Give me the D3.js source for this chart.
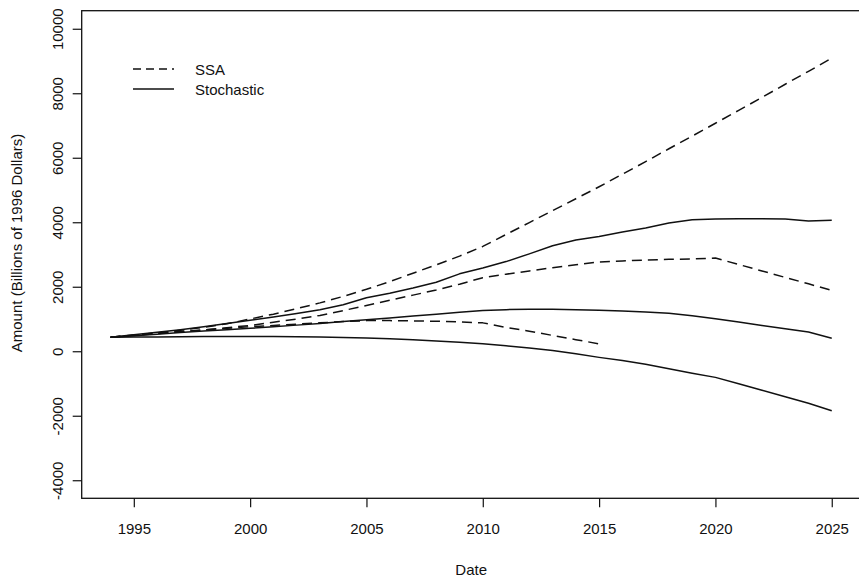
<!DOCTYPE html>
<html>
<head>
<meta charset="utf-8">
<script src="https://cdn.jsdelivr.net/npm/d3@7"></script>
<style>
  html, body { margin: 0; padding: 0; background: #fff; }
  svg { display: block; }
  text { font-family: "Liberation Sans", Arial, Helvetica, sans-serif; fill: #111; }
</style>
</head>
<body>
<svg id="chart" width="859" height="577"></svg>
<script>
// ---- data ----
const years = [1994,1995,1996,1997,1998,1999,2000,2001,2002,2003,2004,2005,2006,2007,2008,2009,
               2010,2011,2012,2013,2014,2015,2016,2017,2018,2019,2020,2021,2022,2023,2024,2025];

const ssaHigh = [435,500,570,650,740,850,1000,1150,1320,1500,1700,1920,2160,2420,2680,2950,
                 3250,3620,3990,4360,4730,5100,5490,5880,6280,6670,7070,7470,7870,8280,8680,9090];
const ssaMid  = [435,490,545,600,660,730,800,900,1000,1110,1260,1420,1580,1740,1900,2080,
                 2280,2390,2490,2590,2680,2770,2800,2830,2850,2860,2890,2690,2490,2290,2090,1890];
const ssaLow  = [435,500,560,610,660,710,760,800,840,880,920,950,950,940,930,910,
                 880,740,620,490,360,230,null,null,null,null,null,null,null,null,null,null];

const stochHigh = [435,510,590,670,760,860,960,1060,1170,1290,1440,1660,1800,1960,2140,2400,
                   2580,2780,3020,3270,3450,3560,3700,3820,3980,4080,4100,4110,4110,4100,4040,4060];
const stochMid  = [435,480,530,580,630,670,710,760,810,860,920,975,1030,1090,1150,1210,
                   1260,1290,1305,1300,1290,1270,1250,1220,1180,1100,1010,905,800,700,597,405];
const stochLow  = [435,440,445,450,455,455,455,455,450,440,425,410,390,360,320,280,
                   230,170,100,20,-80,-190,-290,-400,-540,-680,-810,-1010,-1210,-1410,-1615,-1845];

const xTicks = [1995,2000,2005,2010,2015,2020,2025];
const yTicks = [-4000,-2000,0,2000,4000,6000,8000,10000];
const legendLabels = ["SSA","Stochastic"];
const xTitle = "Date";
const yTitle = "Amount (Billions of 1996 Dollars)";

// ---- layout ----
const svg = d3.select("#chart");
const L = 81.7, R = 860.6, T = 10.7, B = 498.3;
const x = d3.scaleLinear().domain([1992.76, 2026.24]).range([L, R]);
const y = d3.scaleLinear().domain([-4560, 10560]).range([B, T]);

const DASH = "10,6";
const seriesDefs = [
  {vals: ssaHigh, dash: DASH},
  {vals: ssaMid, dash: DASH},
  {vals: ssaLow, dash: DASH},
  {vals: stochHigh, dash: null},
  {vals: stochMid, dash: null},
  {vals: stochLow, dash: null}
];

const line = d3.line()
  .defined(d => d.v !== null)
  .x(d => x(d.t))
  .y(d => y(d.v));

seriesDefs.forEach(s => {
  const pts = years.map((t, i) => ({t, v: s.vals[i]}));
  svg.append("path")
    .attr("d", line(pts))
    .attr("fill", "none")
    .attr("stroke", "#111")
    .attr("stroke-width", 1.5)
    .attr("stroke-dasharray", s.dash)
    .attr("stroke-linejoin", "round");
});

// frame
svg.append("rect")
  .attr("x", L).attr("y", T)
  .attr("width", R - L).attr("height", B - T)
  .attr("fill", "none").attr("stroke", "#111").attr("stroke-width", 1.3);

const fmt = d => String(d);

// x axis
const xAxis = d3.axisBottom(x).tickValues(xTicks).tickFormat(fmt)
  .tickSize(9).tickSizeOuter(0).tickPadding(16);
const gx = svg.append("g").attr("transform", `translate(0,${B})`).call(xAxis);
gx.select(".domain").remove();
gx.selectAll("line").attr("stroke", "#111").attr("stroke-width", 1.2);
gx.selectAll("text").attr("font-size", 15).attr("font-family", "Liberation Sans, Arial, sans-serif").attr("fill", "#111");

// y axis
const yAxis = d3.axisLeft(y).tickValues(yTicks).tickFormat(fmt)
  .tickSize(9).tickSizeOuter(0).tickPadding(0);
const gy = svg.append("g").attr("transform", `translate(${L},0)`).call(yAxis);
gy.select(".domain").remove();
gy.selectAll("line").attr("stroke", "#111").attr("stroke-width", 1.2);
gy.selectAll("text")
  .attr("font-size", 15).attr("font-family", "Liberation Sans, Arial, sans-serif").attr("fill", "#111")
  .attr("x", null).attr("dy", null)
  .attr("text-anchor", "middle")
  .attr("transform", "translate(-19,0) rotate(-90)");

// axis titles
svg.append("text")
  .attr("x", (L + R) / 2).attr("y", 575)
  .attr("text-anchor", "middle").attr("font-size", 15)
  .text(xTitle);
svg.append("text")
  .attr("transform", `translate(22,243) rotate(-90)`)
  .attr("text-anchor", "middle").attr("font-size", 15)
  .text(yTitle);

// legend
const leg = svg.append("g");
[{dash: "8,5", ly: 69}, {dash: null, ly: 89}].forEach((d, i) => {
  leg.append("line")
    .attr("x1", 133).attr("x2", 174).attr("y1", d.ly).attr("y2", d.ly)
    .attr("stroke", "#111").attr("stroke-width", 1.5)
    .attr("stroke-dasharray", d.dash);
  leg.append("text")
    .attr("x", 195).attr("y", d.ly + 6)
    .attr("font-size", 15)
    .text(legendLabels[i]);
});
</script>
</body>
</html>
